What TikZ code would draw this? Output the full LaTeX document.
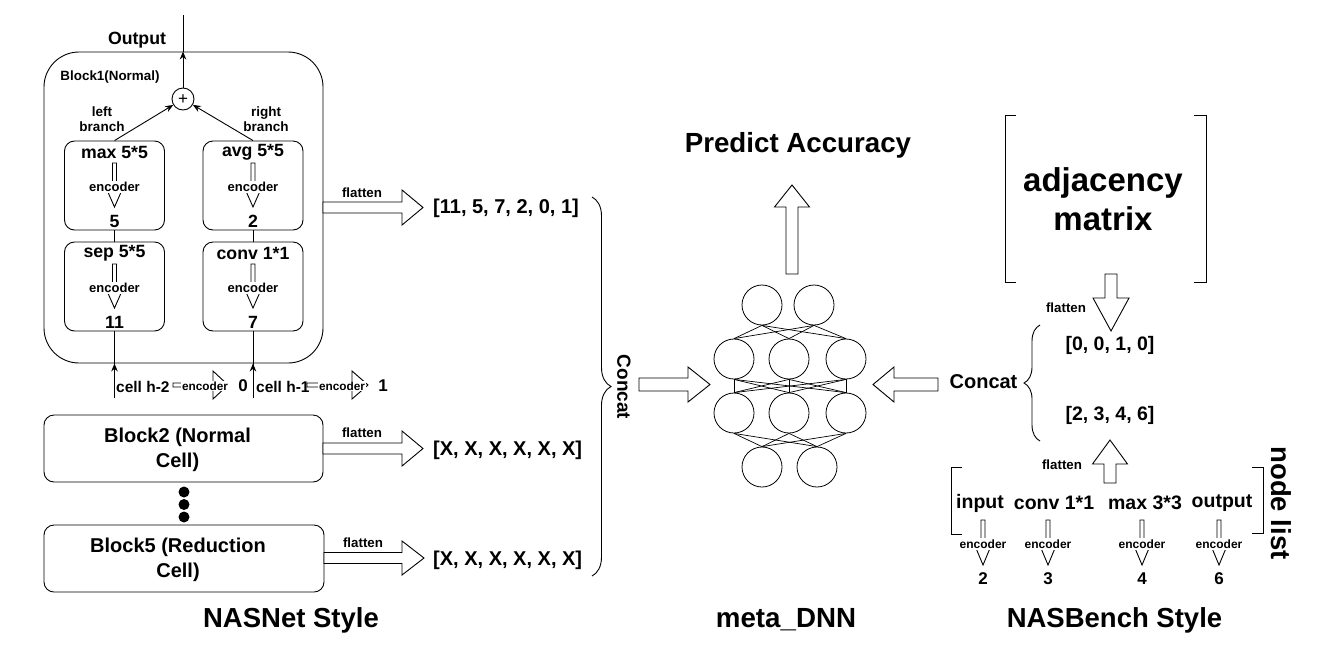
\documentclass[tikz,border=0pt]{standalone}
\usepackage{fontspec}
\setmainfont{Liberation Sans}
\usetikzlibrary{arrows.meta,decorations.pathreplacing}

\newcommand\harrow[6]{% yc x1 xbase xtip sw hw
 \draw[harr] ({#2},{#1-#5}) -- ({#3},{#1-#5}) -- ({#3},{#1-#6}) -- ({#4},{#1}) -- ({#3},{#1+#6}) -- ({#3},{#1+#5}) -- ({#2},{#1+#5}) -- cycle;}
\newcommand\varrow[6]{% xc y1 ybase ytip sw hw
 \draw[harr] ({#1-#5},{#2}) -- ({#1-#5},{#3}) -- ({#1-#6},{#3}) -- ({#1},{#4}) -- ({#1+#6},{#3}) -- ({#1+#5},{#3}) -- ({#1+#5},{#2}) -- cycle;}
\newcommand\opbox[5]{%
 \node[box, minimum width=100, minimum height=89] (#1) at (#2,{#3+44.5}) {};
 \node[tx=17.7] (#1t) at (#2,{#3+11}) {#4};
 \varrow{#2}{#3+22}{#3+49}{#3+66}{2}{7.5}
 \node[enc=13] (#1e) at (#2,{#3+46}) {encoder};
 \node[tx=17.7] (#1n) at (#2,{#3+80}) {#5};}
\newcommand\nbitem[3]{% x name number
 \varrow{#1}{520}{547}{565}{2}{7.5}
 \node[enc=12] (#2e) at (#1,544) {encoder};
 \node[tx=17] (#2n) at (#1,579) {#3};}

\tikzset{
 tx/.style={inner sep=0pt, font=\fontsize{#1}{#1}\selectfont\bfseries},
 enc/.style={fill=white, inner sep=1.5pt, font=\fontsize{#1}{#1}\selectfont\bfseries},
 box/.style={draw, rounded corners=10pt, line width=0.9pt, inner sep=0pt},
 neuron/.style={draw, circle, minimum size=40, inner sep=0pt, line width=0.8pt},
 harr/.style={draw, line width=0.9pt, fill=white},
 arr/.style={-{Stealth[length=8pt,width=6.5pt]}, line width=0.9pt},
 ln/.style={line width=0.9pt},
 brc/.style={decorate, decoration={brace, amplitude=#1}, line width=0.9pt},
}

\begin{document}
\begin{tikzpicture}[x=1pt,y=-1pt]
\fill[white] (0,0) rectangle (1332,662);
\useasboundingbox (0,0) rectangle (1332,662);

% ---------------- NASNet style ----------------
\node[draw, rounded corners=35pt, line width=0.9pt, minimum width=279, minimum height=311, inner sep=0pt] (blk1) at (183.5,207.5) {};
\node[tx=13.4] (blk1t) at (110,77) {Block1(Normal)};
\node[tx=17.7] (outt) at (137,40) {Output};
\node[draw, circle, minimum size=22, inner sep=0pt, line width=0.9pt] (plus) at (183,99) {};
\node[inner sep=0pt, font=\fontsize{17}{17}\selectfont] at (183,99.5) {+};
\coordinate (outtop) at (183,15);
\draw[arr] (plus) -- (plus |- blk1.north);
\draw[ln] (plus |- blk1.north) -- (outtop);

\node[tx=13.5, align=center, font=\fontsize{13.5}{15}\selectfont\bfseries] (lb) at (102,119) {left\\branch};
\node[tx=13.5, align=center, font=\fontsize{13.5}{15}\selectfont\bfseries] (rb) at (266,119) {right\\branch};

\opbox{maxb}{114.5}{141}{max 5*5}{5}
\opbox{avgb}{253}{141}{avg 5*5}{2}
\opbox{sepb}{114.5}{242}{sep 5*5}{11}
\opbox{convb}{253}{242}{conv 1*1}{7}

\draw[ln] (maxb.south) -- (sepb.north);
\draw[ln] (avgb.south) -- (convb.north);
\draw[arr] (maxb.north) -- (plus);
\draw[arr] (avgb.north) -- (plus);

% inputs
\coordinate (in2) at (114.5,398);
\coordinate (in1) at (253,398);
\draw[ln] (in2) -- (sepb.south);
\draw[ln] (in1) -- (convb.south);
\draw[arr] (in2) -- (in2 |- blk1.south);
\draw[arr] (in1) -- (in1 |- blk1.south);
\node[tx=15.5, anchor=west] (c2) at (116,387) {cell h-2};
\harrow{385}{173}{213}{228}{2}{14}
\node[enc=11.8, inner sep=0.8pt] (c2e) at (205,386) {encoder};
\node[tx=17] (c2num) at (243,386) {0};
\node[tx=15.5, anchor=west] (c1) at (256,387) {cell h-1};
\harrow{385}{307}{352}{368}{2}{14}
\node[enc=11.8, inner sep=0.8pt] (c1e) at (342,386) {encoder};
\node[tx=17] (c1num) at (383,386) {1};

% block 2 and 5
\node[box, minimum width=279, minimum height=67] (blk2) at (183.5,448.5) {};
\node[align=center, inner sep=0pt, font=\fontsize{20}{25}\selectfont\bfseries] (blk2t) at (177.5,450) {Block2 (Normal\\Cell)};
\node[circle, fill, minimum size=11, inner sep=0pt] (d1) at (184,492) {};
\node[circle, fill, minimum size=11, inner sep=0pt] (d2) at (184,504.5) {};
\node[circle, fill, minimum size=11, inner sep=0pt] (d3) at (184,517) {};
\node[box, minimum width=280, minimum height=67] (blk5) at (184,558.5) {};
\node[align=center, inner sep=0pt, font=\fontsize{20}{25}\selectfont\bfseries] (blk5t) at (178,560) {Block5 (Reduction\\Cell)};

% flatten arrows
\harrow{207.5}{323}{402}{423}{5.5}{17.5}
\node[tx=13.3] (f1) at (362,193) {flatten};
\node[tx=20, anchor=west] (v1) at (433,208) {[11, 5, 7, 2, 0, 1]};
\harrow{448.5}{323}{402}{423}{5.5}{17.5}
\node[tx=13.3] (f2) at (362,433) {flatten};
\node[tx=20, anchor=west] (v2) at (433,450) {[X, X, X, X, X, X]};
\harrow{558}{324}{402}{424}{5.5}{17}
\node[tx=13.3] (f3) at (363,543) {flatten};
\node[tx=20, anchor=west] (v3) at (433,560) {[X, X, X, X, X, X]};

\draw[brc=19] (592,197) -- (592,576);
\node[tx=19, rotate=-90] (concL) at (624,387) {Concat};

\node[tx=27.5] (t1) at (291,620) {NASNet Style};

% ---------------- meta DNN ----------------
\node[tx=27.7] (pa) at (798,145) {Predict Accuracy};
\varrow{792}{274}{207}{185}{6}{17.5}

\node[neuron] (a1) at (762,305) {};
\node[neuron] (a2) at (814,305) {};
\node[neuron] (b1) at (734,359) {};
\node[neuron] (b2) at (789,359) {};
\node[neuron] (b3) at (846,359) {};
\node[neuron] (c1n) at (734,413) {};
\node[neuron] (c2n) at (789,413) {};
\node[neuron] (c3n) at (846,413) {};
\node[neuron] (e1) at (762,467) {};
\node[neuron] (e2) at (817,467) {};
\foreach \u in {a1,a2}{\foreach \v in {b1,b2,b3}{\draw[line width=0.7pt] (\u.south) -- (\v.north);}}
\foreach \u in {b1,b2,b3}{\foreach \v in {c1n,c2n,c3n}{\draw[line width=0.7pt] (\u.south) -- (\v.north);}}
\foreach \u in {c1n,c2n,c3n}{\foreach \v in {e1,e2}{\draw[line width=0.7pt] (\u.south) -- (\v.north);}}

\harrow{384.5}{639}{688}{710}{6.5}{17.5}
\harrow{384.5}{938}{894}{873}{6.5}{17.5}

\node[tx=27.7] (t2) at (786,620) {meta\_DNN};

% ---------------- NASBench style ----------------
\draw[ln] (1016,115) -- (1005,115) -- (1005,282) -- (1016,282);
\draw[ln] (1194,115) -- (1206,115) -- (1206,282) -- (1194,282);
\node[align=center, inner sep=0pt, font=\fontsize{33}{39}\selectfont\bfseries] (adj) at (1103,199) {adjacency\\matrix};
\varrow{1111}{274}{298}{331}{6}{18}
\node[tx=13.3] (f4) at (1066,308) {flatten};

\node[tx=19.5] (l1) at (1110,345) {[0, 0, 1, 0]};
\node[tx=19.5] (l2) at (1110,415) {[2, 3, 4, 6]};
\draw[brc=16] (1040,441) -- (1040,325);
\node[tx=20] (concR) at (983.5,382) {Concat};

\varrow{1110}{483}{464}{440}{6}{17.5}
\node[tx=13.3] (f5) at (1062,465) {flatten};

\draw[ln] (962,467) -- (951,467) -- (951,534) -- (962,534);
\draw[ln] (1252,467) -- (1263,467) -- (1263,533) -- (1252,533);
\node[tx=19.5] (ni1) at (980,503) {input};
\node[tx=19.5] (ni2) at (1054,503) {conv 1*1};
\node[tx=19.5] (ni3) at (1145,503) {max 3*3};
\node[tx=19.5] (ni4) at (1222,503) {output};
\nbitem{983}{e1x}{2}
\nbitem{1048}{e2x}{3}
\nbitem{1142}{e3x}{4}
\nbitem{1219}{e4x}{6}
\node[tx=27.5, rotate=-90] (nl) at (1281,503) {node list};

\node[tx=27.5] (t3) at (1114.5,620) {NASBench Style};
\end{tikzpicture}
\end{document}
